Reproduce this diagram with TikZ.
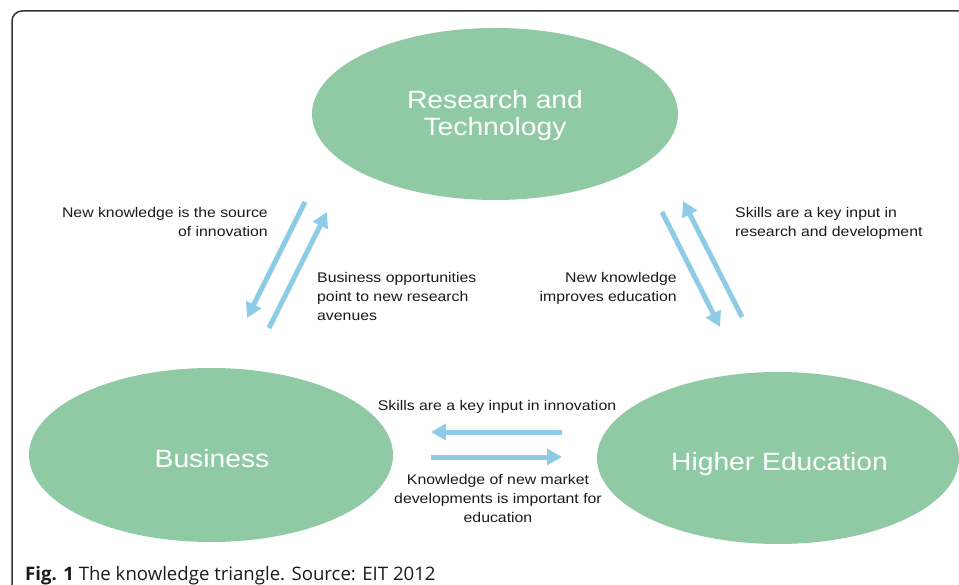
\documentclass[tikz,border=0pt]{standalone}
\usepackage{fontspec}
\setmainfont{Liberation Sans}[FakeStretch=1.13]
\newfontfamily\capfont{Open Sans}
\usetikzlibrary{shapes.geometric,arrows.meta}
\definecolor{ellgreen}{HTML}{8FCAA5}
\definecolor{arrblue}{HTML}{8DCBE6}
\definecolor{txt}{HTML}{1A1A1A}
\definecolor{frame}{HTML}{333333}
\tikzset{
  bubble/.style={ellipse, fill=ellgreen, draw=none, inner sep=0pt, text=white, align=center,
    font=\fontsize{25}{27}\selectfont},
  lbl/.style={inner sep=0pt, text=txt, font=\fontsize{14}{19}\selectfont},
  flow/.style={draw=arrblue, line width=5pt, -{Triangle[width=16pt,length=15pt]}},
}
\begin{document}
\begin{tikzpicture}[x=1pt,y=-1pt]
\useasboundingbox (0,0) rectangle (959,585);
\clip (0,0) rectangle (959,585);
\draw[frame, line width=1.5pt, rounded corners=10pt] (12,620) -- (12,11) -- (990,11);

\node[bubble, minimum width=366pt, minimum height=172pt] (rt) at (495,114) {\rule{0pt}{22pt}Research and\\Technology};
\node[bubble, minimum width=364pt, minimum height=174pt, text height=24pt, text depth=0pt] (bus) at (211,455) {\hspace*{2pt}Business};
\node[bubble, minimum width=362pt, minimum height=172pt, text height=24pt, text depth=0pt] (he) at (778,458) {\hspace*{3pt}Higher Education};

% left pair
\coordinate (a1s) at (305,202); \coordinate (a1e) at (247,318);
\coordinate (a2s) at (269,328); \coordinate (a2e) at (327,212);
% right pair
\coordinate (a3s) at (662,212); \coordinate (a3e) at (720,327);
\coordinate (a4s) at (742,317); \coordinate (a4e) at (683,201);
% bottom pair
\coordinate (a5s) at (562,432); \coordinate (a5e) at (431,432);
\coordinate (a6s) at (431,457); \coordinate (a6e) at (562,457);
\draw[flow] (a1s) -- (a1e);
\draw[flow] (a2s) -- (a2e);
\draw[flow] (a3s) -- (a3e);
\draw[flow] (a4s) -- (a4e);
\draw[flow] (a5s) -- (a5e);
\draw[flow] (a6s) -- (a6e);

\node[lbl, align=right, anchor=north east] (l1) at (268,207) {New knowledge is the source\\of innovation};
\node[lbl, align=left, anchor=north west] (l2) at (317,272) {Business opportunities\\point to new research\\avenues};
\node[lbl, align=left, anchor=north west] (r1) at (735,207) {Skills are a key input in\\research and development};
\node[lbl, align=right, anchor=north east] (r2) at (677,272) {New knowledge\\improves education};
\node[lbl, align=center, anchor=north] (b1) at (497,400) {Skills are a key input in innovation};
\node[lbl, align=center, anchor=north] (b2) at (498,474) {Knowledge of new market\\developments is important for\\education};

\node[anchor=base west, inner sep=0pt, text=txt, font=\capfont\fontsize{18.6}{20}\selectfont] (cap) at (25,580) {\textbf{Fig. 1} The knowledge triangle. Source: EIT 2012};
\end{tikzpicture}
\end{document}
